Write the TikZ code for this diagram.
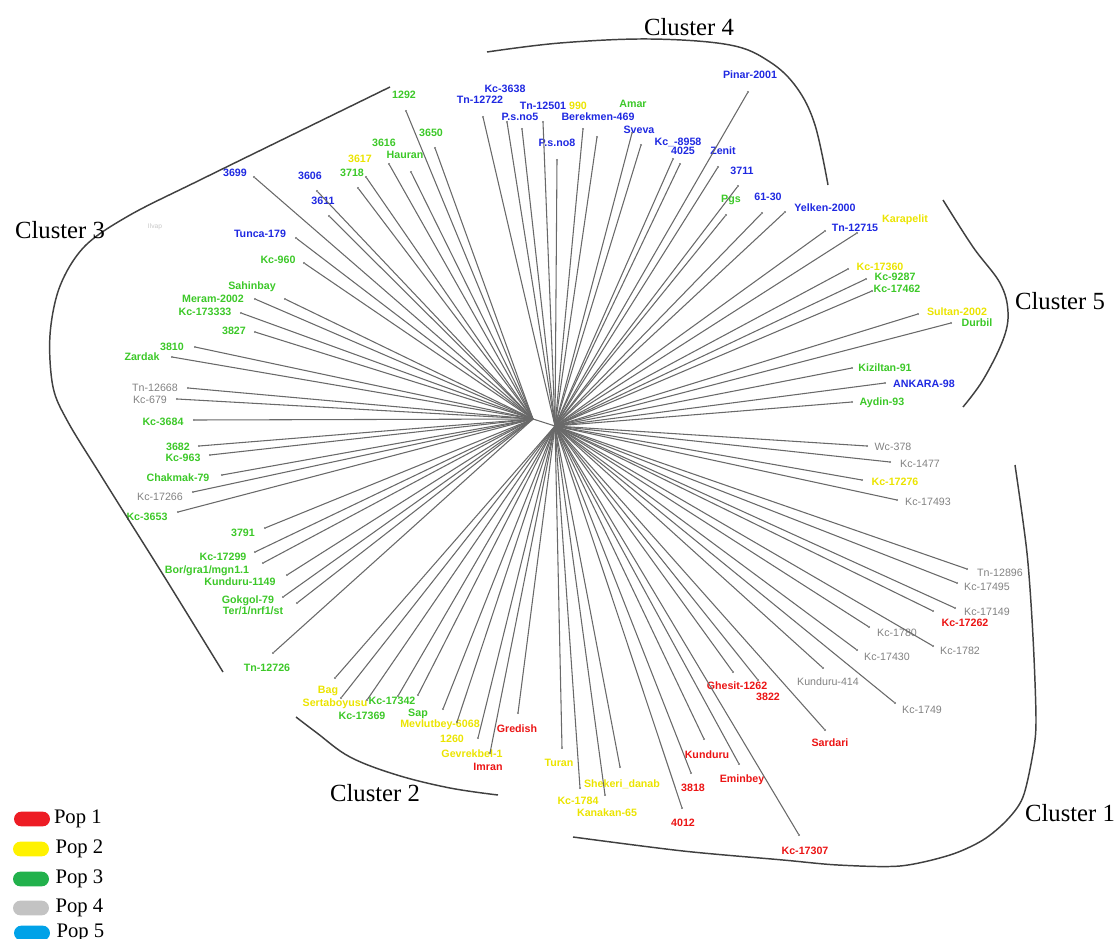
\documentclass[tikz,border=0pt]{standalone}
\usepackage{fontspec}
\setsansfont{Liberation Sans}
\newfontfamily\clusterfont{Liberation Serif}
\usetikzlibrary{positioning}
\definecolor{labblue}{RGB}{30,40,225}
\definecolor{labgreen}{RGB}{60,200,40}
\definecolor{labyellow}{RGB}{235,228,0}
\definecolor{labred}{RGB}{235,20,20}
\definecolor{labgray}{RGB}{130,130,130}
\definecolor{branch}{RGB}{105,105,105}
\definecolor{popred}{RGB}{237,28,36}
\definecolor{popyellow}{RGB}{255,242,0}
\definecolor{popgreen}{RGB}{34,177,76}
\definecolor{popgray}{RGB}{195,195,195}
\definecolor{popblue}{RGB}{0,162,232}
\begin{document}
\begin{tikzpicture}
[x=0.75pt,y=-0.75pt,
 every node/.style={inner sep=0pt,outer sep=0pt,font=\sffamily\bfseries\fontsize{8}{9}\selectfont},
 blu/.style={text=labblue},
 grn/.style={text=labgreen},
 yel/.style={text=labyellow},
 rd/.style={text=labred},
 gry/.style={text=labgray,font=\sffamily\fontsize{8}{9}\selectfont},
 tip/.style={circle,fill=branch,minimum size=1.6pt},
 br/.style={draw=branch,line width=0.8pt},
 bracket/.style={draw=black!75,line width=1.1pt},
 cl/.style={font=\clusterfont\fontsize{18.5}{20}\selectfont},
 pill/.style={rounded corners=5.5pt,minimum width=27pt,minimum height=11pt},
 pop/.style={font=\clusterfont\fontsize{15.5}{17}\selectfont}]
\useasboundingbox (0,0) rectangle (1118,939);

% hubs
\coordinate (L) at (533,419);
\coordinate (R) at (555,426);

% cluster 3
\node[tip] (a01) at (406,111) {}; \node[grn] (a01l) at (404,95)  {1292};
\node[tip] (a02) at (435,148) {}; \node[grn] (a02l) at (431,133) {3650};
\node[tip] (a03) at (389,164) {}; \node[grn] (a03l) at (384,143) {3616};
\node[tip] (a04) at (411,172) {}; \node[grn] (a04l) at (405,155) {Hauran};
\node[tip] (a05) at (366,177) {}; \node[yel] (a05l) at (360,159) {3617};
\node[tip] (a06) at (358,188) {}; \node[grn] (a06l) at (352,173) {3718};
\node[tip] (a07) at (254,177) {}; \node[blu] (a07l) at (235,173) {3699};
\node[tip] (a08) at (317,191) {}; \node[blu] (a08l) at (310,176) {3606};
\node[tip] (a09) at (329,216) {}; \node[blu] (a09l) at (323,201) {3611};
\node[tip] (a10) at (296,238) {}; \node[blu] (a10l) at (260,234) {Tunca-179};
\node[tip] (a11) at (304,263) {}; \node[grn] (a11l) at (278,260) {Kc-960};
\node[tip] (a12) at (285,299) {}; \node[grn] (a12l) at (252,287) {Sahinbay};
\node[tip] (a13) at (255,299) {}; \node[grn] (a13l) at (213,299) {Meram-2002};
\node[tip] (a14) at (241,313) {}; \node[grn] (a14l) at (205,312) {Kc-173333};
\node[tip] (a15) at (255,332) {}; \node[grn] (a15l) at (234,331) {3827};
\node[tip] (a16) at (195,347) {}; \node[grn] (a16l) at (172,347) {3810};
\node[tip] (a17) at (172,357) {}; \node[grn] (a17l) at (142,357) {Zardak};
\node[tip] (a18) at (188,388) {}; \node[gry] (a18l) at (155,388) {Tn-12668};
\node[tip] (a19) at (177,399) {}; \node[gry] (a19l) at (150,400) {Kc-679};
\node[tip] (a20) at (194,420) {}; \node[grn] (a20l) at (163,422) {Kc-3684};
\node[tip] (a21) at (199,446) {}; \node[grn] (a21l) at (178,447) {3682};
\node[tip] (a22) at (210,455) {}; \node[grn] (a22l) at (183,458) {Kc-963};
\node[tip] (a23) at (222,475) {}; \node[grn] (a23l) at (178,478) {Chakmak-79};
\node[tip] (a24) at (193,492) {}; \node[gry] (a24l) at (160,497) {Kc-17266};
\node[tip] (a25) at (178,512) {}; \node[grn] (a25l) at (147,517) {Kc-3653};
\node[tip] (a26) at (265,528) {}; \node[grn] (a26l) at (243,533) {3791};
\node[tip] (a27) at (255,552) {}; \node[grn] (a27l) at (223,557) {Kc-17299};
\node[tip] (a28) at (263,563) {}; \node[grn] (a28l) at (207,571) {Bor/gra1/mgn1.1};
\node[tip] (a29) at (287,575) {}; \node[grn] (a29l) at (240,582) {Kunduru-1149};
\node[tip] (a30) at (283,597) {}; \node[grn] (a30l) at (248,601) {Gokgol-79};
\node[tip] (a31) at (297,603) {}; \node[grn] (a31l) at (253,611) {Ter/1/nrf1/st};
\node[tip] (a32) at (273,653) {}; \node[grn] (a32l) at (267,668) {Tn-12726};
\node[gry,text=labgray!45,font=\sffamily\fontsize{5}{6}\selectfont] (a33l) at (155,227) {Ilvap};

% cluster 2
\node[tip] (b01) at (335,678) {}; \node[yel] (b01l) at (328,691) {Bag};
\node[tip] (b02) at (341,698) {}; \node[yel] (b02l) at (335,704) {Sertaboyusu};
\node[tip] (b03) at (367,700) {}; \node[grn] (b03l) at (392,701) {Kc-17342};
\node[tip] (b04) at (398,696) {}; \node[grn] (b04l) at (362,716) {Kc-17369};
\node[tip] (b05) at (418,695) {}; \node[grn] (b05l) at (418,714) {Sap};
\node[tip] (b06) at (443,709) {}; \node[yel] (b06l) at (440,725) {Mevlutbey-6068};
\node[tip] (b07) at (457,722) {}; \node[yel] (b07l) at (452,739) {1260};
\node[tip] (b08) at (478,738) {}; \node[yel] (b08l) at (472,754) {Gevrekbel-1};
\node[tip] (b09) at (490,753) {}; \node[rd]  (b09l) at (488,767) {Imran};
\node[tip] (b10) at (518,713) {}; \node[rd]  (b10l) at (517,729) {Gredish};
\node[tip] (b11) at (562,748) {}; \node[yel] (b11l) at (559,763) {Turan};
\node[tip] (b12) at (620,767) {}; \node[yel] (b12l) at (622,784) {Shekeri\_danab};
\node[tip] (b13) at (580,788) {}; \node[yel] (b13l) at (578,801) {Kc-1784};
\node[tip] (b14) at (605,795) {}; \node[yel] (b14l) at (607,813) {Kanakan-65};

% cluster 1
\node[tip] (c01) at (704,739) {}; \node[rd]  (c01l) at (707,755) {Kunduru};
\node[tip] (c02) at (691,773) {}; \node[rd]  (c02l) at (693,788) {3818};
\node[tip] (c03) at (739,764) {}; \node[rd]  (c03l) at (742,780) {Eminbey};
\node[tip] (c04) at (682,808) {}; \node[rd]  (c04l) at (683,823) {4012};
\node[tip] (c05) at (733,672) {}; \node[rd]  (c05l) at (737,686) {Ghesit-1262};
\node[tip] (c06) at (758,680) {}; \node[rd]  (c06l) at (768,697) {3822};
\node[tip] (c07) at (825,730) {}; \node[rd]  (c07l) at (830,743) {Sardari};
\node[tip] (c08) at (799,835) {}; \node[rd]  (c08l) at (805,851) {Kc-17307};
\node[tip] (c09) at (823,668) {}; \node[gry] (c09l) at (828,682) {Kunduru-414};
\node[tip] (c10) at (895,703) {}; \node[gry] (c10l) at (922,710) {Kc-1749};
\node[tip] (c11) at (857,650) {}; \node[gry] (c11l) at (887,657) {Kc-17430};
\node[tip] (c12) at (933,646) {}; \node[gry] (c12l) at (960,651) {Kc-1782};
\node[tip] (c13) at (869,627) {}; \node[gry] (c13l) at (897,633) {Kc-1780};
\node[tip] (c14) at (933,611) {}; \node[rd]  (c14l) at (965,623) {Kc-17262};
\node[tip] (c15) at (955,608) {}; \node[gry] (c15l) at (987,612) {Kc-17149};
\node[tip] (c16) at (957,583) {}; \node[gry] (c16l) at (987,587) {Kc-17495};
\node[tip] (c17) at (967,569) {}; \node[gry] (c17l) at (1000,573) {Tn-12896};
\node[tip] (c18) at (897,500) {}; \node[gry] (c18l) at (928,502) {Kc-17493};
\node[tip] (c19) at (862,480) {}; \node[yel] (c19l) at (895,482) {Kc-17276};
\node[tip] (c20) at (890,462) {}; \node[gry] (c20l) at (920,464) {Kc-1477};
\node[tip] (c21) at (867,446) {}; \node[gry] (c21l) at (893,447) {Wc-378};

% cluster 5
\node[tip] (e01) at (852,402) {}; \node[grn] (e01l) at (882,403) {Aydin-93};
\node[tip] (e02) at (885,383) {}; \node[blu] (e02l) at (924,384) {ANKARA-98};
\node[tip] (e03) at (852,368) {}; \node[grn] (e03l) at (885,368) {Kiziltan-91};
\node[tip] (e04) at (951,323) {}; \node[grn] (e04l) at (977,323) {Durbil};
\node[tip] (e05) at (918,314) {}; \node[yel] (e05l) at (957,312) {Sultan-2002};
\node[tip] (e06) at (872,291) {}; \node[grn] (e06l) at (897,289) {Kc-17462};
\node[tip] (e07) at (866,279) {}; \node[grn] (e07l) at (895,277) {Kc-9287};
\node[tip] (e08) at (848,269) {}; \node[yel] (e08l) at (880,267) {Kc-17360};
\node[tip] (e09) at (857,233) {}; \node[yel] (e09l) at (905,220) {Karapelit};

% cluster 4
\node[tip] (d01) at (825,231) {}; \node[blu] (d01l) at (855,228) {Tn-12715};
\node[tip] (d02) at (785,212) {}; \node[blu] (d02l) at (825,208) {Yelken-2000};
\node[tip] (d03) at (762,213) {}; \node[blu] (d03l) at (768,197) {61-30};
\node[tip] (d04) at (726,215) {}; \node[grn] (d04l) at (731,200) {Pgs};
\node[tip] (d05) at (738,186) {}; \node[blu] (d05l) at (742,171) {3711};
\node[tip] (d06) at (718,167) {}; \node[blu] (d06l) at (723,151) {Zenit};
\node[tip] (d07) at (673,159) {}; \node[blu] (d07l) at (678,142) {Kc\_-8958};
\node[tip] (d08) at (680,164) {}; \node[blu] (d08l) at (683,151) {4025};
\node[tip] (d09) at (748,92)  {}; \node[blu] (d09l) at (750,75)  {Pinar-2001};
\node[tip] (d10) at (641,145) {}; \node[blu] (d10l) at (639,130) {Sveva};
\node[tip] (d11) at (632,133) {}; \node[grn] (d11l) at (633,104) {Amar};
\node[tip] (d12) at (597,137) {}; \node[blu] (d12l) at (598,117) {Berekmen-469};
\node[tip] (d13) at (583,129) {}; \node[yel] (d13l) at (578,106) {990};
\node[tip] (d14) at (543,122) {}; \node[blu] (d14l) at (543,106) {Tn-12501};
\node[tip] (d15) at (522,129) {}; \node[blu] (d15l) at (520,117) {P.s.no5};
\node[tip] (d16) at (507,122) {}; \node[blu] (d16l) at (505,89)  {Kc-3638};
\node[tip] (d17) at (483,117) {}; \node[blu] (d17l) at (480,100) {Tn-12722};
\node[tip] (d18) at (557,160) {}; \node[blu] (d18l) at (557,143) {P.s.no8};

% branches
\path[br] (L) edge (R);
\path[br] (L) edge (a01) edge (a02) edge (a03) edge (a04) edge (a05) edge (a06)
              edge (a07) edge (a08) edge (a09) edge (a10) edge (a11) edge (a12)
              edge (a13) edge (a14) edge (a15) edge (a16) edge (a17) edge (a18)
              edge (a19) edge (a20) edge (a21) edge (a22) edge (a23) edge (a24)
              edge (a25) edge (a26) edge (a27) edge (a28) edge (a29) edge (a30)
              edge (a31) edge (a32);
\path[br] (R) edge (b01) edge (b02) edge (b03) edge (b04) edge (b05) edge (b06)
              edge (b07) edge (b08) edge (b09) edge (b10) edge (b11) edge (b12)
              edge (b13) edge (b14);
\path[br] (R) edge (c01) edge (c02) edge (c03) edge (c04) edge (c05) edge (c06)
              edge (c07) edge (c08) edge (c09) edge (c10) edge (c11) edge (c12)
              edge (c13) edge (c14) edge (c15) edge (c16) edge (c17) edge (c18)
              edge (c19) edge (c20) edge (c21);
\path[br] (R) edge (e01) edge (e02) edge (e03) edge (e04) edge (e05) edge (e06)
              edge (e07) edge (e08) edge (e09);
\path[br] (R) edge (d01) edge (d02) edge (d03) edge (d04) edge (d05) edge (d06)
              edge (d07) edge (d08) edge (d09) edge (d10) edge (d11) edge (d12)
              edge (d13) edge (d14) edge (d15) edge (d16) edge (d17) edge (d18);

% cluster brackets
\draw[bracket] plot[smooth,tension=0.55] coordinates {(390,87) (300,131) (200,180) (130,215) (85,246) (60,286) (50,335) (53,387) (68,422) (100,474) (130,522) (167,581) (223,672)};
\draw[bracket] plot[smooth,tension=0.6] coordinates {(487,52) (560,43) (650,39) (730,45) (770,62) (797,88) (815,125) (828,185)};
\draw[bracket] plot[smooth,tension=0.6] coordinates {(943,200) (973,247) (1000,283) (1008,312) (1003,340) (983,380) (963,407)};
\draw[bracket] plot[smooth,tension=0.5] coordinates {(1015,465) (1027,553) (1033,637) (1036,720) (1033,753) (1023,797) (1007,820) (983,840) (950,855) (900,866) (838,865) (783,860) (683,851) (573,837)};
\draw[bracket] plot[smooth,tension=0.6] coordinates {(296,717) (317,733) (350,757) (397,775) (450,788) (498,795)};

\node[cl] (cl1) at (1070,813) {Cluster 1};
\node[cl] (cl2) at (375,793)  {Cluster 2};
\node[cl] (cl3) at (60,230)   {Cluster 3};
\node[cl] (cl4) at (689,27)   {Cluster 4};
\node[cl] (cl5) at (1060,301) {Cluster 5};

% legend
\node[pill,fill=popred]    (p1) at (32,819) {};
\node[pill,fill=popyellow] (p2) at (31,849) {};
\node[pill,fill=popgreen]  (p3) at (31,879) {};
\node[pill,fill=popgray]   (p4) at (31,908) {};
\node[pill,fill=popblue]   (p5) at (32,933) {};
\node[pop] (p1t) [right=3pt of p1] {Pop 1};
\node[pop] (p2t) [right=5pt of p2] {Pop 2};
\node[pop] (p3t) [right=5pt of p3] {Pop 3};
\node[pop] (p4t) [right=5pt of p4] {Pop 4};
\node[pop] (p5t) [right=5pt of p5] {Pop 5};
\end{tikzpicture}
\end{document}
